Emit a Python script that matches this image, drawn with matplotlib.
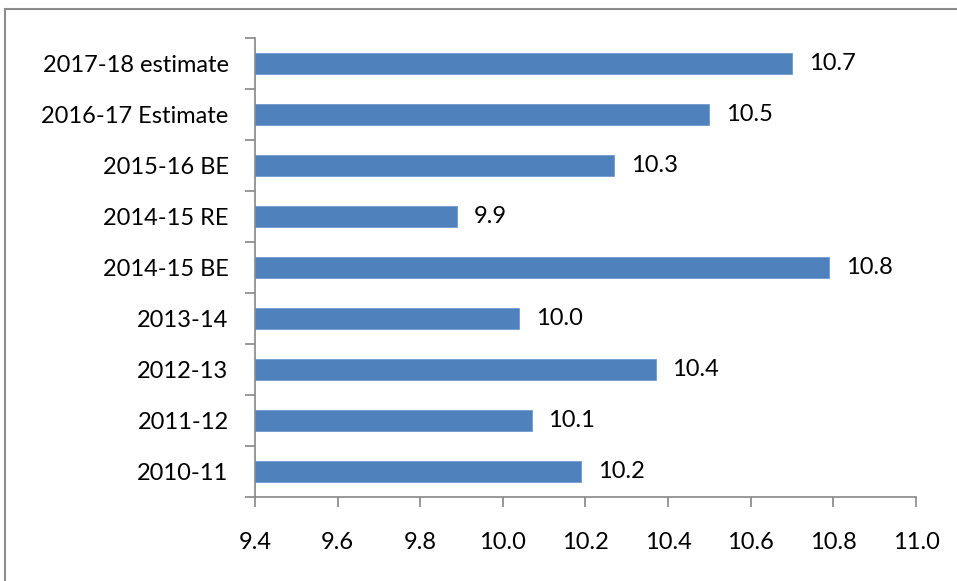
import matplotlib
matplotlib.use("Agg")
import matplotlib.pyplot as plt
from matplotlib.patches import Rectangle

# Data (bottom to top)
categories = ["2010-11", "2011-12", "2012-13", "2013-14", "2014-15 BE",
              "2014-15 RE", "2015-16 BE", "2016-17 Estimate", "2017-18 estimate"]
values = [10.19, 10.07, 10.37, 10.04, 10.79, 9.89, 10.27, 10.50, 10.70]
x_ticks = [9.4, 9.6, 9.8, 10.0, 10.2, 10.4, 10.6, 10.8, 11.0]

bar_color = "#4F81BD"
axis_color = "#868686"
plt.rcParams["font.family"] = ["Lato", "DejaVu Sans"]
fs = 17

W, H, dpi = 957, 581, 100
fig = plt.figure(figsize=(W / dpi, H / dpi), dpi=dpi, facecolor="w")

# outer chart frame (clipped at right/bottom as in the screenshot)
fig.patches.append(Rectangle((5 / W, -0.05), 1.1, 1 - 9 / H + 0.05,
                             transform=fig.transFigure, fill=False,
                             edgecolor="#8c8c8c", linewidth=1.5))

ax = fig.add_axes([255 / W, 1 - 497 / H, (916 - 255) / W, (497 - 38) / H])
ypos = list(range(len(categories)))
ax.barh(ypos, [v - x_ticks[0] for v in values], left=x_ticks[0],
        height=0.4, color=bar_color, edgecolor="#6f9bd0", linewidth=0.6)

for y, v in zip(ypos, values):
    ax.text(v + 0.04, y, f"{v:.1f}", va="center", ha="left", fontsize=fs)

ax.set_xlim(x_ticks[0], x_ticks[-1])
ax.set_ylim(-0.5, len(categories) - 0.5)
ax.set_xticks(x_ticks)
ax.set_xticklabels([f"{t:.1f}" for t in x_ticks], fontsize=fs)
ax.set_yticks(ypos)
ax.set_yticklabels(categories, fontsize=fs)
ax.set_yticks([i - 0.5 for i in range(len(categories) + 1)], minor=True)

for s in ["top", "right"]:
    ax.spines[s].set_visible(False)
for s in ["left", "bottom"]:
    ax.spines[s].set_color(axis_color)
    ax.spines[s].set_linewidth(1.2)

ax.tick_params(axis="y", which="major", length=0, pad=19)
ax.tick_params(axis="y", which="minor", length=7, width=1.2, color=axis_color, direction="out")
ax.tick_params(axis="x", which="major", length=7, width=1.2, color=axis_color, pad=18)

plt.savefig("out.png", dpi=dpi, facecolor="w")
